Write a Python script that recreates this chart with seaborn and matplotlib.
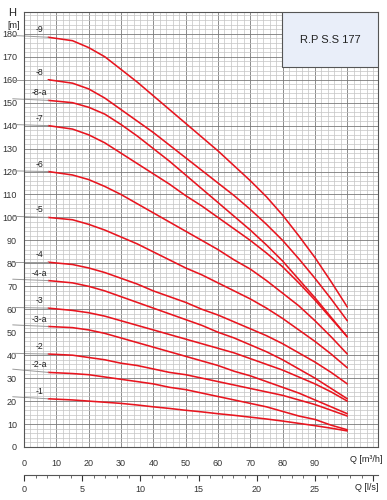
import seaborn as sns
import matplotlib.pyplot as plt
import pandas as pd
from matplotlib.patches import Rectangle
from matplotlib.ticker import MultipleLocator

# flow points (m3/h) where each curve was read
q = [7.5, 15, 20, 25, 30, 35, 40, 45, 50, 55, 60, 65, 70, 75, 80, 85, 90, 95, 100]

# head values H [m] per model
h_9 = [178.5, 177, 174, 170, 164.5, 159, 153, 147, 141, 135, 129, 122.5, 116, 109, 101, 92, 82.5, 72, 61]
h_8 = [160, 158.5, 156, 152, 147, 142, 137, 131.5, 126, 120.5, 115, 109.5, 103.5, 97, 90, 82, 73.5, 64.5, 55]
h_8a = [151, 150, 148, 145, 140.5, 135.5, 130, 124.5, 118.5, 112.5, 106.5, 100.5, 94.5, 88, 81, 73, 65, 56.5, 48]
h_7 = [140, 138.5, 136, 132.5, 128, 123.5, 119, 114.5, 109.5, 105, 100, 95, 90, 84.5, 78.5, 71.5, 64, 56, 48]
h_6 = [120, 118.5, 116.5, 113.5, 110, 106, 102, 98, 94, 90, 86, 81.5, 77.5, 72.5, 67, 61.5, 55, 48, 40.5]
h_5 = [100, 99, 97, 94.5, 91.5, 88.5, 85, 81.5, 78, 75, 71.5, 68, 64.5, 60.5, 56, 51, 46, 40.5, 34.5]
h_4 = [80.5, 79.5, 78, 76, 73.5, 71, 68, 65.5, 63, 60, 57.5, 54.5, 51.5, 48.5, 45, 41, 37, 32.5, 27.5]
h_4a = [72.5, 71.5, 70, 68, 65.5, 63, 60.5, 58, 55.5, 53, 50, 47.5, 44.5, 41.5, 38, 34, 30, 25.5, 21]
h_3 = [60.5, 59.5, 58.5, 57, 55, 53, 51, 49, 47, 45, 43, 41, 38.5, 36, 33.5, 30.5, 27.5, 24, 20]
h_3a = [52.5, 52, 51, 49.5, 47.5, 45.5, 43.5, 41.5, 39.5, 37.5, 35.5, 33, 31, 28.5, 26, 23.5, 20.5, 17.5, 14.5]
h_2 = [40.5, 40, 39, 38, 36.5, 35.5, 34, 32.5, 31.5, 30, 28.5, 27, 25.5, 24, 22.5, 20.5, 18.5, 16, 13.5]
h_2a = [32.5, 32, 31.5, 30.5, 29.5, 28.5, 27.5, 26, 25, 23.5, 22, 20.5, 19, 17.5, 15.5, 13.5, 12, 9.5, 7.5]
h_1 = [21, 20.5, 20, 19.5, 19, 18.3, 17.5, 16.8, 16, 15.3, 14.5, 13.8, 13, 12.2, 11.3, 10.3, 9.3, 8.2, 7]

labels = ['-9', '-8', '-8-a', '-7', '-6', '-5', '-4', '-4-a', '-3', '-3-a', '-2', '-2-a', '-1']
heads = [h_9, h_8, h_8a, h_7, h_6, h_5, h_4, h_4a, h_3, h_3a, h_2, h_2a, h_1]
# head where the grey leader line starts, left of the axis
lead_h = [179.3, 160, 151.7, 140.5, 120.3, 100.5, 80.5, 73.1, 60.8, 53.2, 40.8, 33.9, 21.9]

x_ticks = [0, 10, 20, 30, 40, 50, 60, 70, 80, 90, 100]
ls_ticks = [0, 5, 10, 15, 20, 25, 30]

rows = []
for lab, h in zip(labels, heads):
    for qq, hh in zip(q, h):
        rows.append({'Q': qq, 'H': hh, 'model': lab})
df = pd.DataFrame(rows)

sns.set_style("white")
plt.rcParams['font.family'] = ['Liberation Sans', 'DejaVu Sans']

fig = plt.figure(figsize=(3.87, 5.0), dpi=100)
ax = fig.add_axes([24 / 387, 53 / 500, 354 / 387, 435 / 500])

red = '#e8151f'
sns.lineplot(data=df, x='Q', y='H', hue='model', units='model', estimator=None,
             palette=[red] * len(labels), legend=False, linewidth=1.15, ax=ax, sort=False)

# grey leader lines and curve names
for lab, h, lh in zip(labels, heads, lead_h):
    ax.plot([-3.5, q[0]], [lh, h[0]], color='#9a9a9a', lw=0.7, clip_on=False, zorder=2)
    ax.text(4.8, h[0] + 1.3, lab, fontsize=6.3, ha='center', va='bottom', color='#222222')

ax.set_xlim(0, 109.5)
ax.set_ylim(0, 189.5)

# grid: major every 10, minor every 2
ax.xaxis.set_major_locator(MultipleLocator(10))
ax.xaxis.set_minor_locator(MultipleLocator(2))
ax.yaxis.set_major_locator(MultipleLocator(10))
ax.yaxis.set_minor_locator(MultipleLocator(2))
ax.grid(which='major', color='#7a7a7a', lw=0.6)
ax.grid(which='minor', color='#c4c4c4', lw=0.5)
ax.set_axisbelow(True)

ax.set_xticks(x_ticks)
ax.set_xticklabels([str(t) for t in x_ticks[:-1]] + [''])
ax.set_yticks(range(0, 190, 10))
ax.tick_params(axis='both', which='major', direction='out', length=3, width=0.8,
               labelsize=6.5, colors='#333333', pad=2)
ax.tick_params(axis='both', which='minor', length=0)
ax.tick_params(axis='x', pad=6)
for s in ax.spines.values():
    s.set_color('#555555')
    s.set_linewidth(0.8)

ax.set_xlabel('')
ax.set_ylabel('')

# l/s scale under the m3/h axis
sec = ax.secondary_xaxis(-0.064, functions=(lambda x: x / 3.6, lambda x: x * 3.6))
sec.set_xticks(ls_ticks)
sec.set_xticklabels([str(t) for t in ls_ticks[:-1]] + [''])
sec.xaxis.set_minor_locator(MultipleLocator(1))
sec.tick_params(which='major', direction='out', length=4, width=0.8, labelsize=6.5,
                colors='#333333', pad=3)
sec.tick_params(which='minor', direction='out', length=2, width=0.6, colors='#555555')
sec.spines['bottom'].set_color('#555555')
sec.spines['bottom'].set_linewidth(0.8)

# axis captions
fig.text(12 / 387, 1 - 13 / 500, 'H', fontsize=8, ha='center', va='center', color='#222222')
fig.text(14 / 387, 1 - 25 / 500, '[m]', fontsize=6.5, ha='center', va='center', color='#222222')
fig.text(350 / 387, 1 - 460 / 500, 'Q [m³/h]', fontsize=6.5, ha='left', va='center', color='#222222')
fig.text(355 / 387, 1 - 487 / 500, 'Q [l/s]', fontsize=6.5, ha='left', va='center', color='#222222')

# model box
ax.add_patch(Rectangle((258 / 354, 380 / 435), 96 / 354, 55 / 435, transform=ax.transAxes,
                       facecolor='#e9eef9', edgecolor='#555555', lw=0.8, zorder=5))
ax.text((258 + 48) / 354, (380 + 27) / 435, 'R.P S.S 177', transform=ax.transAxes,
        fontsize=8, ha='center', va='center', color='#222222', zorder=6,
        family=['Liberation Sans Narrow', 'Liberation Sans', 'DejaVu Sans'])

fig.savefig('out.png', dpi=100)
